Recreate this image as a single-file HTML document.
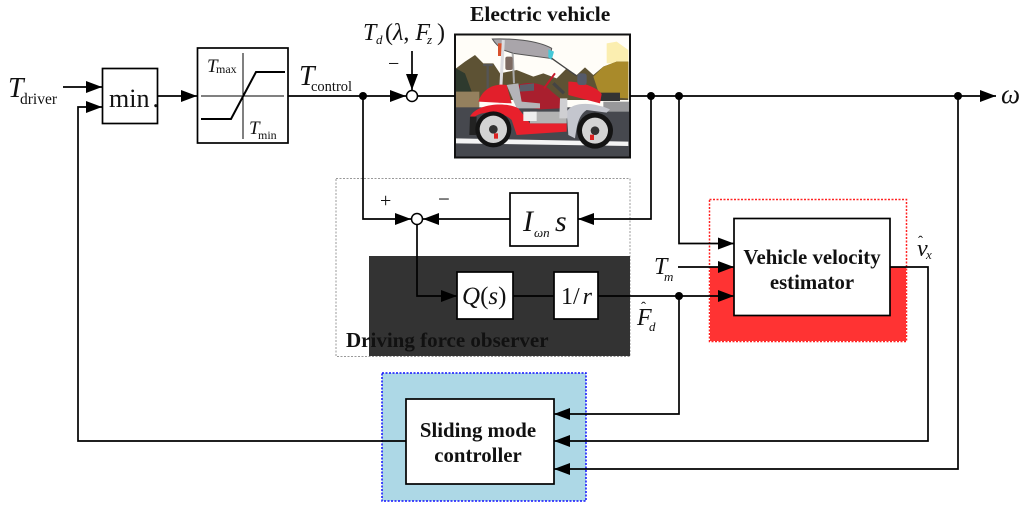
<!DOCTYPE html>
<html><head><meta charset="utf-8"><style>
html,body{margin:0;padding:0;background:#fff}
svg{display:block}
text{font-family:"Liberation Serif",serif;fill:#111}
.b{font-weight:bold;font-size:20.800px}
.i{font-style:italic}
</style></head><body>
<svg width="1024" height="509" viewBox="0 0 1024 509" xmlns="http://www.w3.org/2000/svg">
<defs>
<marker id="a" markerWidth="16" markerHeight="12" refX="16" refY="6" orient="auto" markerUnits="userSpaceOnUse"><path d="M0 0L16 6L0 12Z" fill="#000"/></marker>
<clipPath id="c"><rect x="456" y="35" width="173" height="122"/></clipPath>
</defs>

<!-- panels -->
<rect x="336" y="178.500" width="294" height="178" fill="#fff" stroke="#999" stroke-width="1" stroke-dasharray="2 1.500"/>
<rect x="369" y="256" width="261" height="100" fill="#333"/>
<rect x="709.500" y="199.500" width="197" height="142" fill="#fff" stroke="#f22" stroke-width="1.500" stroke-dasharray="2 1.500"/>
<rect x="710" y="267" width="196" height="74" fill="#f33"/>
<rect x="382" y="373" width="204" height="128" fill="#add8e6" stroke="#11f" stroke-width="1.500" stroke-dasharray="2 1.500"/>

<!-- car photo (drawn in 3x crop coordinates) -->
<g clip-path="url(#c)"><g transform="translate(440 20) scale(.33333)">
<rect x="45" y="43" width="525" height="370" fill="#fffdf8"/>
<path d="M500 70L530 65L565 90V130L500 130Z" fill="#fbeeb0"/>
<path d="M48 145L75 125L105 105L130 130L160 130L180 160L230 150L280 170L310 160L350 175L380 145L410 165L435 142L460 165L490 140L530 125L565 125V240H48Z" fill="#5d5234"/>
<path d="M460 170L490 140L530 125L565 125V235L480 230Z" fill="#a98a2a"/>
<path d="M48 145L75 160L95 215H48Z" fill="#2e3a2e"/>
<path d="M130 135H158M143 135V215" stroke="#555" stroke-width="7" fill="none"/>
<rect x="48" y="215" width="70" height="50" fill="#94805e"/>
<rect x="480" y="218" width="60" height="25" fill="#333"/>
<rect x="48" y="262" width="520" height="150" fill="#46484e"/>
<rect x="490" y="245" width="78" height="30" fill="#98989a"/>
<path d="M48 355L565 365V378L48 370Z" fill="#f4f4f4"/>
<path d="M235 195C260 185 310 185 335 215L360 235V265L300 268L240 260Z" fill="#a91f2e"/>
<path d="M240 195L282 190V212L238 215Z" fill="#5a5d68"/>
<path d="M157 57C210 55 290 60 335 85L330 115L220 100L190 90C175 80 165 70 157 57Z" fill="#a9a5aa" stroke="#555" stroke-width="3"/>
<path d="M325 88L342 95L335 120L325 112Z" fill="#45c8d8"/>
<path d="M174 70H186V108H174Z" fill="#d8502c"/>
<path d="M335 115L410 168" stroke="#444" stroke-width="4" fill="none"/>
<path d="M190 60L180 250" stroke="#dcdce0" stroke-width="9" fill="none"/>
<path d="M218 100L222 190" stroke="#aaa" stroke-width="6" fill="none"/>
<rect x="196" y="110" width="22" height="40" fill="#7c6a62" rx="6"/>
<path d="M115 245C130 200 170 190 200 195L215 250Z" fill="#e21f2b"/>
<path d="M200 195L235 190L245 245L300 250V265L230 265Z" fill="#b4b4b8"/>
<path d="M90 290C110 250 200 245 235 265L270 310H380V335L230 345L215 300C190 275 130 270 105 290Z" fill="#e8202c"/>
<path d="M90 290H110L108 345H88Z" fill="#222"/>
<path d="M385 185C420 185 470 200 485 222L480 250L385 225Z" fill="#e01e2c"/>
<path d="M380 275C400 240 470 250 510 268L500 278L440 270C415 285 410 320 405 355L385 345Z" fill="#c4c6ce"/>
<path d="M270 275H380V310H270Z" fill="#b3b3b3"/>
<path d="M360 235H382V295H358Z" fill="#cfcfd2"/>
<path d="M340 190L372 220" stroke="#444" stroke-width="10" fill="none"/>
<path d="M345 160L312 205" stroke="#c5182a" stroke-width="6" fill="none"/>
<rect x="412" y="160" width="28" height="35" fill="#555a6a" rx="8"/>
<rect x="250" y="275" width="40" height="28" fill="#eee"/>
<circle cx="160" cy="328" r="54" fill="#141414"/><circle cx="160" cy="328" r="41" fill="#d4d4d4"/><circle cx="160" cy="328" r="13" fill="#333"/>
<circle cx="465" cy="332" r="54" fill="#141414"/><circle cx="465" cy="332" r="39" fill="#d4d4d4"/><circle cx="465" cy="332" r="13" fill="#333"/>
<rect x="162" y="340" width="12" height="16" fill="#d22"/><rect x="450" y="344" width="12" height="16" fill="#d22"/>
</g></g>
<rect x="455" y="34.500" width="175" height="123" fill="none" stroke="#111" stroke-width="2"/>

<!-- connectors -->
<g fill="none" stroke="#000" stroke-width="1.700">
<path d="M63 87H102" marker-end="url(#a)"/>
<path d="M406 441H78V107H102" marker-end="url(#a)"/>
<path d="M158 96H197" marker-end="url(#a)"/>
<path d="M288 96H406" marker-end="url(#a)"/>
<path d="M418 96H455"/>
<path d="M412 51V90" marker-end="url(#a)"/>
<path d="M630 96H996" marker-end="url(#a)"/>
<path d="M363 96V219H411" marker-end="url(#a)"/>
<path d="M510 219H423" marker-end="url(#a)"/>
<path d="M651 96V219H578" marker-end="url(#a)"/>
<path d="M417 225V296H457" marker-end="url(#a)"/>
<path d="M513 296H554"/>
<path d="M598 296H734" marker-end="url(#a)"/>
<path d="M679 96V243.500H734" marker-end="url(#a)"/>
<path d="M678 267H734" marker-end="url(#a)"/>
<path d="M679 296V414H554" marker-end="url(#a)"/>
<path d="M890 267H928V441H554" marker-end="url(#a)"/>
<path d="M958 96V469H554" marker-end="url(#a)"/>
</g>
<g fill="#000"><circle cx="363" cy="96" r="4"/><circle cx="651" cy="96" r="4"/><circle cx="679" cy="96" r="4"/><circle cx="958" cy="96" r="4"/><circle cx="679" cy="296" r="4"/></g>
<circle cx="412" cy="96" r="5.500" fill="#fff" stroke="#000" stroke-width="1.500"/>
<circle cx="417" cy="219" r="5.500" fill="#fff" stroke="#000" stroke-width="1.500"/>

<!-- boxes -->
<g fill="#fff" stroke="#000" stroke-width="1.700">
<rect x="102.500" y="68.500" width="55" height="55"/>
<rect x="197.500" y="48" width="90.500" height="95"/>
<rect x="510" y="193" width="68" height="53"/>
<rect x="457" y="272" width="56" height="47"/>
<rect x="554" y="272" width="44" height="47"/>
<rect x="734" y="218.500" width="156" height="97"/>
<rect x="406" y="399" width="148" height="85"/>
</g>
<!-- saturation -->
<path d="M201 96H284M243 53V139" fill="none" stroke="#000" stroke-width="1"/>
<path d="M201 119H231L256 72H285" fill="none" stroke="#000" stroke-width="2"/>

<!-- labels -->
<text x="8" y="97" font-size="28" class="i">T</text><text x="20" y="104" font-size="15.500">driver</text>
<text x="109" y="107" font-size="26">min<tspan dx="3">.</tspan></text>
<text x="207" y="72" font-size="19" class="i">T</text><text x="216" y="73" font-size="12">max</text>
<text x="249" y="134" font-size="19" class="i">T</text><text x="258" y="139" font-size="12">min</text>
<text x="299" y="85" font-size="28" class="i">T</text><text x="311" y="91" font-size="14.500">control</text>
<text x="363" y="40" font-size="24" class="i">T</text><text x="376" y="44" font-size="13" class="i">d</text>
<text x="385" y="40" font-size="24">(<tspan class="i">λ</tspan>, <tspan class="i">F</tspan></text><text x="427" y="44" font-size="13" class="i">z</text><text x="437" y="40" font-size="24">)</text>
<text x="388" y="70" font-size="20">−</text>
<text class="b" x="470" y="21" style="font-size:21.500px">Electric vehicle</text>
<text x="1001" y="103" font-size="27" class="i">ω</text>
<text x="380" y="207" font-size="20">+</text>
<text x="438" y="206" font-size="21">−</text>
<text x="523" y="231" font-size="30" class="i">I</text><text x="534" y="237" font-size="13" class="i">ωn</text><text x="555" y="231" font-size="30" class="i">s</text>
<text x="462" y="304" font-size="25"><tspan class="i">Q</tspan>(<tspan class="i">s</tspan>)</text>
<text x="561" y="304" font-size="24">1/<tspan class="i" dx="3">r</tspan></text>
<text x="637" y="325" font-size="24" class="i">F</text><text x="641" y="312" font-size="15">ˆ</text><text x="649" y="331" font-size="13" class="i">d</text>
<text x="346" y="347" style="font-size:21px;font-weight:bold;fill:#111">Driving force observer</text>
<text x="654" y="274" font-size="24" class="i">T</text><text x="664" y="281" font-size="13" class="i">m</text>
<text x="917" y="256" font-size="24" class="i">v</text><text x="918" y="246" font-size="15">ˆ</text><text x="926" y="259" font-size="13" class="i">x</text>
<text class="b" x="812" y="264" text-anchor="middle">Vehicle velocity</text>
<text class="b" x="812" y="289" text-anchor="middle">estimator</text>
<text class="b" x="478" y="437" text-anchor="middle">Sliding mode</text>
<text class="b" x="478" y="462" text-anchor="middle">controller</text>
</svg>
</body></html>
